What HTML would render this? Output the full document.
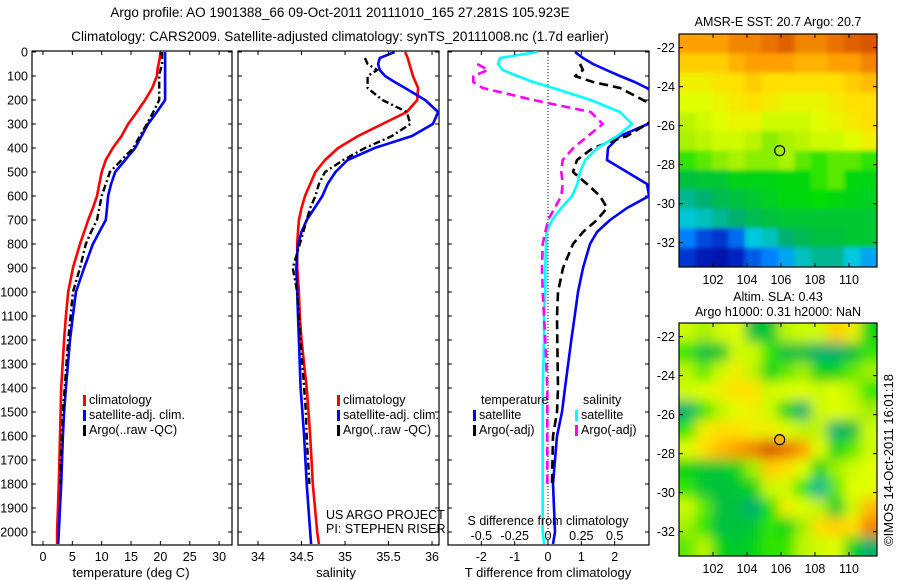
<!DOCTYPE html>
<html><head><meta charset="utf-8">
<style>
body{margin:0;background:#fff;}
svg{display:block;font-family:"Liberation Sans",sans-serif;}
</style></head>
<body>
<svg id="fig" width="900" height="580" viewBox="0 0 900 580" xmlns="http://www.w3.org/2000/svg">
<text x="340" y="17" font-size="13.5" text-anchor="middle">Argo profile: AO 1901388_66 09-Oct-2011 20111010_165 27.281S 105.923E</text>
<text x="340" y="41" font-size="13.5" text-anchor="middle">Climatology: CARS2009. Satellite-adjusted climatology: synTS_20111008.nc (1.7d earlier)</text>
<defs><filter id="blur2" x="-10%" y="-10%" width="120%" height="120%"><feGaussianBlur stdDeviation="6"/></filter>
<filter id="blur1" x="-10%" y="-10%" width="120%" height="120%"><feGaussianBlur stdDeviation="2"/></filter>
<clipPath id="cp1"><rect x="32" y="51" width="200" height="494"/></clipPath>
<clipPath id="cp2"><rect x="238" y="51" width="201" height="494"/></clipPath>
<clipPath id="cp3"><rect x="448" y="51" width="201" height="494"/></clipPath>
<clipPath id="cm1"><rect x="679" y="34" width="198" height="233"/></clipPath>
<clipPath id="cm2"><rect x="679" y="323" width="198" height="233"/></clipPath>
</defs>
<g id="root"></g>
<text transform="translate(893,460) rotate(-90)" font-size="13" text-anchor="middle">©IMOS 14-Oct-2011 16:01:18</text>
</svg>
<script>
// ---- depth levels (m) ----
const depths = [0,25,50,75,100,125,150,200,250,300,350,400,450,500,550,600,650,700,750,800,900,1000,1100,1200,1400,1500,1600,1800,2000,2050];
// ---- temperature panel (deg C) ----
const tClim = [20.0,19.9,19.7,19.5,19.4,19.0,18.6,17.4,16.0,14.5,13.4,11.9,10.7,10.0,9.6,9.2,8.5,7.7,7.0,6.3,5.1,4.3,3.9,3.6,3.1,3.0,2.9,2.7,2.4,2.4];
const tSat  = [20.8,20.8,20.8,20.8,20.8,20.8,20.8,20.8,19.4,17.9,16.8,15.7,14.0,12.3,11.6,11.1,10.9,10.7,9.6,8.5,7.0,5.6,5.1,4.6,3.9,3.6,3.4,3.1,2.7,2.6];
const tArgo = [20.3,20.3,20.3,20.0,19.8,19.8,19.8,19.8,18.8,17.7,16.5,15.4,13.4,11.4,10.7,10.0,9.6,9.2,8.2,7.3,6.3,5.1,4.7,4.3,3.7,3.4,3.2,2.9,null,null];
// ---- salinity panel ----
const sClim = [35.69,35.72,35.74,35.76,35.78,35.81,35.84,35.83,35.71,35.43,35.15,34.92,34.77,34.66,34.60,34.54,34.50,34.47,34.46,34.45,34.45,34.47,34.48,34.50,34.56,34.58,34.60,34.63,34.68,34.70];
const sSat  = [35.57,35.40,35.38,35.40,35.46,35.57,35.69,35.92,36.07,36.01,35.77,35.34,35.03,34.89,34.80,34.74,34.65,34.56,34.50,34.46,34.44,34.45,34.46,34.47,34.49,34.51,34.53,34.56,34.60,34.61];
const sArgo = [null,35.23,35.26,35.37,35.26,35.26,35.26,35.43,35.71,35.75,35.54,35.23,34.98,34.77,34.70,34.66,34.60,34.56,34.52,34.48,34.40,34.45,34.47,34.49,34.53,34.55,34.56,34.59,null,null];
// ---- difference panel: T diff (deg C), S diff ----
const dTSat  = [0.81,1.05,1.35,1.75,2.16,2.6,2.97,3.5,3.5,3.0,2.16,1.8,1.77,2.37,2.97,3.03,2.37,1.86,1.47,1.26,1.05,0.9,0.8,0.7,0.51,0.42,0.27,0.15,0.21,0.15];
const dTArgo = [null,null,0.96,1.05,0.81,1.35,2.16,2.85,3.5,2.97,2.37,1.35,0.87,0.75,1.17,1.56,1.77,1.47,1.05,0.75,0.45,0.3,0.27,0.28,0.3,0.27,0.15,0.12,null,null];
const dSSat  = [-0.08,-0.36,-0.375,-0.34,-0.23,-0.11,0.04,0.32,0.54,0.63,0.52,0.37,0.28,0.24,0.22,0.18,0.10,0.03,-0.01,-0.015,-0.02,-0.02,-0.03,-0.03,-0.04,-0.04,-0.04,-0.04,-0.04,-0.03];
const dSArgo = [null,null,-0.53,-0.45,-0.56,-0.56,-0.49,-0.11,0.32,0.41,0.30,0.19,0.11,0.10,0.11,0.10,0.05,0.0,-0.02,-0.04,-0.045,-0.04,-0.03,-0.02,-0.005,-0.005,-0.005,-0.005,null,null];
// ---- tick labels ----
const depthTicks = [0,100,200,300,400,500,600,700,800,900,1000,1100,1200,1300,1400,1500,1600,1700,1800,1900,2000];
const tTicks = [0,5,10,15,20,25,30];
const sTicks = [34,34.5,35,35.5,36];
const dTTicks = [-2,-1,0,1,2];
const dSTicks = [-0.5,-0.25,0,0.25,0.5];
const dSLabels = ['-0.5','-0.25','0','0.25','0.5'];
const latTicks = [-22,-24,-26,-28,-30,-32];
const lonTicks = [102,104,106,108,110];
// ---- map grids (normalized colour value 0..1), rows north->south ----
const sstGrid = [
[0.85,0.85,0.85,0.88,0.88,0.9,0.92,0.88,0.88,0.9,0.92,0.93],
[0.8,0.8,0.8,0.83,0.85,0.85,0.85,0.83,0.83,0.85,0.85,0.88],
[0.75,0.75,0.77,0.78,0.8,0.78,0.78,0.78,0.78,0.78,0.8,0.82],
[0.72,0.72,0.74,0.76,0.78,0.76,0.74,0.74,0.74,0.76,0.78,0.78],
[0.68,0.7,0.72,0.74,0.74,0.7,0.7,0.7,0.72,0.74,0.76,0.78],
[0.66,0.68,0.7,0.7,0.68,0.64,0.66,0.68,0.7,0.7,0.72,0.75],
[0.6,0.62,0.64,0.66,0.64,0.64,0.66,0.62,0.6,0.62,0.62,0.6],
[0.5,0.52,0.52,0.55,0.55,0.55,0.56,0.56,0.6,0.62,0.56,0.55],
[0.42,0.45,0.48,0.5,0.52,0.54,0.56,0.56,0.58,0.56,0.55,0.54],
[0.36,0.38,0.42,0.45,0.48,0.5,0.52,0.52,0.52,0.52,0.52,0.52],
[0.25,0.18,0.15,0.22,0.35,0.38,0.45,0.48,0.5,0.5,0.52,0.52],
[0.15,0.1,0.08,0.12,0.2,0.25,0.3,0.38,0.42,0.42,0.35,0.3]];
const slaGrid = [
[0.7,0.65,0.7,0.72,0.5,0.52,0.68,0.7,0.7,0.8,0.75,0.55],
[0.6,0.5,0.52,0.7,0.7,0.6,0.5,0.5,0.45,0.45,0.5,0.6],
[0.68,0.62,0.7,0.75,0.68,0.55,0.62,0.65,0.55,0.55,0.62,0.65],
[0.7,0.72,0.75,0.78,0.78,0.7,0.72,0.72,0.7,0.72,0.68,0.6],
[0.45,0.6,0.68,0.72,0.75,0.7,0.55,0.45,0.7,0.72,0.7,0.65],
[0.6,0.75,0.78,0.78,0.75,0.75,0.72,0.68,0.68,0.45,0.5,0.7],
[0.72,0.78,0.82,0.85,0.88,0.93,0.9,0.85,0.72,0.55,0.62,0.7],
[0.55,0.52,0.52,0.55,0.65,0.8,0.78,0.72,0.55,0.65,0.7,0.72],
[0.6,0.52,0.5,0.52,0.55,0.7,0.7,0.6,0.42,0.62,0.72,0.72],
[0.7,0.62,0.5,0.5,0.45,0.58,0.75,0.72,0.68,0.52,0.7,0.82],
[0.65,0.6,0.5,0.5,0.52,0.6,0.55,0.65,0.78,0.8,0.78,0.88],
[0.62,0.68,0.55,0.52,0.55,0.6,0.6,0.68,0.7,0.72,0.55,0.45]];
const argoLon = 105.923, argoLat = -27.281;

const NS="http://www.w3.org/2000/svg";
const root=document.getElementById('root');
function el(tag,attrs,parent,txt){const e=document.createElementNS(NS,tag);for(const k in attrs)e.setAttribute(k,attrs[k]);if(txt!==undefined)e.textContent=txt;(parent||root).appendChild(e);return e;}

const Y0=51,Y1=545;
const yScale=d=>52+d*0.24;

function panel(name,x0,x1,xmin,xmax,clip){
  const g=el('g',{});
  
  
  const xs=v=>x0+(v-xmin)/(xmax-xmin)*(x1-x0);
  const box=el('rect',{x:x0,y:Y0,width:x1-x0,height:Y1-Y0,fill:'none',stroke:'#000','stroke-width':1.2},g);
  
  
  depthTicks.forEach(d=>{const y=yScale(d);
    el('line',{x1:x0,x2:x0+4,y1:y,y2:y,stroke:'#000'},g);
    el('line',{x1:x1,x2:x1-4,y1:y,y2:y,stroke:'#000'},g);});
  return {g,xs,clip};
}
function series(p,vals,color,dash,name,w){
  let d='',pen=false;
  vals.forEach((v,i)=>{if(v===null){pen=false;return;}d+=(pen?'L':'M')+p.xs(v).toFixed(1)+','+yScale(depths[i]).toFixed(1);pen=true;});
  const a={d:d,fill:'none',stroke:color,'stroke-width':w||2.6,'clip-path':'url(#'+p.clip+')','stroke-linejoin':'round'};
  if(dash)a['stroke-dasharray']=dash;
  const e=el('path',a,p.g);
  
  
}
function xTicks(p,ticks,ylab){ticks.forEach(t=>{const x=p.xs(t);
  el('line',{x1:x,x2:x,y1:Y1,y2:Y1-4,stroke:'#000'},p.g);
  el('line',{x1:x,x2:x,y1:Y0,y2:Y0+4,stroke:'#000'},p.g);
  const tl=el('text',{x:x,y:ylab,'font-size':12.5,'text-anchor':'middle'},p.g,String(t));
  
  });}
function legend(p,x,y,items){items.forEach((it,i)=>{
  el('rect',{x:x,y:y+i*15-9,width:3,height:11,fill:it[0]},p.g);
  const t=el('text',{x:x+6,y:y+i*15,'font-size':12.5},p.g,it[1]);
  
  });}

// Panel 1 temperature
const p1=panel('temperature-panel',32,232,-1.87,32.2,'cp1');
depthTicks.forEach(d=>{const t=el('text',{x:28,y:yScale(d)+4.5,'font-size':12.5,'text-anchor':'end'},p1.g,String(d));
  
  });
series(p1,tClim,'#ff0000',null,'temp-climatology-line');
series(p1,tSat,'#0000ff',null,'temp-satellite-line');
series(p1,tArgo,'#000','7,3,2,3','temp-argo-line',2.4);
xTicks(p1,tTicks,561);
const xt1=el('text',{x:131,y:577,'font-size':13,'text-anchor':'middle'},p1.g,'temperature (deg C)');


legend(p1,83,404,[['#f00','climatology'],['#00f','satellite-adj. clim.'],['#000','Argo(..raw -QC)']]);

// Panel 2 salinity
const p2=panel('salinity-panel',238,439,33.77,36.08,'cp2');
series(p2,sClim,'#ff0000',null,'sal-climatology-line');
series(p2,sSat,'#0000ff',null,'sal-satellite-line');
series(p2,sArgo,'#000','7,3,2,3','sal-argo-line',2.4);
xTicks(p2,sTicks,561);
const xt2=el('text',{x:336,y:577,'font-size':13,'text-anchor':'middle'},p2.g,'salinity');


legend(p2,337,404,[['#f00','climatology'],['#00f','satellite-adj. clim.'],['#000','Argo(..raw -QC)']]);
const pr1=el('text',{x:326,y:519,'font-size':12.5},p2.g,'US ARGO PROJECT');


const pr2=el('text',{x:326,y:533,'font-size':12.5},p2.g,'PI: STEPHEN RISER');



// Panel 3 differences
const p3=panel('difference-panel',448,649,-3.0,3.03,'cp3');
const sx=v=>p3.xs(v*4);
el('line',{x1:p3.xs(0),x2:p3.xs(0),y1:Y0,y2:Y1,stroke:'#000','stroke-width':1,'stroke-dasharray':'1,2'},p3.g);
series(p3,dTSat,'#0000ff',null,'tdiff-satellite-line');
series(p3,dTArgo,'#000','9,5','tdiff-argo-line');
series(p3,dSSat.map(v=>v===null?null:v*4),'#00ffff',null,'sdiff-satellite-line');
series(p3,dSArgo.map(v=>v===null?null:v*4),'#ff00ff','9,5','sdiff-argo-line');
dTTicks.forEach(t=>{const x=p3.xs(t);
  el('line',{x1:x,x2:x,y1:Y1,y2:Y1-4,stroke:'#000'},p3.g);el('line',{x1:x,x2:x,y1:Y0,y2:Y0+4,stroke:'#000'},p3.g);
  const tl=el('text',{x:x,y:561,'font-size':12.5,'text-anchor':'middle'},p3.g,String(t));
  
  });
dSTicks.forEach((t,i)=>{const tl=el('text',{x:sx(t),y:540,'font-size':12.5,'text-anchor':'middle'},p3.g,dSLabels[i]);
  
  });
const sdt=el('text',{x:548,y:525,'font-size':12.5,'text-anchor':'middle'},p3.g,'S difference from climatology');


const tdt=el('text',{x:548,y:577,'font-size':13,'text-anchor':'middle'},p3.g,'T difference from climatology');


el('text',{x:481,y:404,'font-size':12.5},p3.g,'temperature');
el('text',{x:583,y:404,'font-size':12.5},p3.g,'salinity');
legend(p3,473,419,[['#00f','satellite'],['#000','Argo(-adj)']]);
legend(p3,575,419,[['#0ff','satellite'],['#f0f','Argo(-adj)']]);

// colormap
const stops=[[0,[0,0,128]],[0.12,[0,32,192]],[0.25,[0,128,255]],[0.35,[0,200,224]],[0.45,[0,176,112]],[0.5,[0,192,64]],[0.58,[0,224,0]],[0.65,[160,240,0]],[0.72,[224,255,0]],[0.78,[255,224,0]],[0.85,[255,160,0]],[0.92,[224,96,0]],[1,[160,16,0]]];
function cmap(v){for(let i=1;i<stops.length;i++){if(v<=stops[i][0]){const a=stops[i-1],b=stops[i];const f=(v-a[0])/(b[0]-a[0]);
  const c=a[1].map((x,k)=>Math.round(x+(b[1][k]-x)*f));return 'rgb('+c+')';}}return 'rgb(160,16,0)';}

function map(name,grid,top,clipId,blurId){
  const x0=679,x1=877,y1=top+233;
  const lonMin=100.0,lonMax=111.65,latTop=-21.3,latBot=-33.25;
  const lx=l=>x0+(l-lonMin)/(lonMax-lonMin)*(x1-x0);
  const ly=l=>top+(latTop-l)/(latTop-latBot)*233;
  const g=el('g',{});
  
  
  const cg=el('g',{'clip-path':'url(#'+clipId+')'},g);
  const ig=el('g',{filter:'url(#'+blurId+')'},cg);
  const nr=grid.length,nc=grid[0].length;
  const dLon=(lonMax-lonMin)/nc,dLat=(latTop-latBot)/nr;
  const pad=12;
  grid.forEach((row,r)=>row.forEach((v,c)=>{
    const xa=lx(lonMin+c*dLon),ya=ly(latTop-r*dLat);
    const cell=el('rect',{x:xa-(c==0?pad:0),y:ya-(r==0?pad:0),width:lx(lonMin+(c+1)*dLon)-xa+0.6+(c==0||c==nc-1?pad:0),height:ly(latTop-(r+1)*dLat)-ya+0.6+(r==0||r==nr-1?pad:0),fill:cmap(v)},ig);
    
    
  }));
  el('rect',{x:x0,y:top,width:x1-x0,height:233,fill:'none',stroke:'#000','stroke-width':1.2},g);
  latTicks.forEach(t=>{const y=ly(t);el('line',{x1:x0,x2:x0+4,y1:y,y2:y,stroke:'#000'},g);el('line',{x1:x1,x2:x1-4,y1:y,y2:y,stroke:'#000'},g);
    const tl=el('text',{x:675,y:y+4.5,'font-size':12.5,'text-anchor':'end'},g,String(t));
    
    });
  lonTicks.forEach(t=>{const x=lx(t);el('line',{x1:x,x2:x,y1:top,y2:top+4,stroke:'#000'},g);el('line',{x1:x,x2:x,y1:y1,y2:y1-4,stroke:'#000'},g);
    const tl=el('text',{x:x,y:y1+17,'font-size':12.5,'text-anchor':'middle'},g,String(t));
    
    });
  const m=el('circle',{cx:lx(argoLon),cy:ly(argoLat),r:5,fill:'none',stroke:'#000','stroke-width':1.2},g);
  
  
  return m;
}
map('sst-map',sstGrid,34,'cm1','blur1');
const m2=map('sla-map',slaGrid,323,'cm2','blur2');
m2.setAttribute('fill','#ffb000');
const t1=el('text',{x:778,y:26,'font-size':12.5,'text-anchor':'middle'},root,'AMSR-E SST: 20.7 Argo: 20.7');


const t2=el('text',{x:778,y:301,'font-size':12.5,'text-anchor':'middle'},root,'Altim. SLA: 0.43');


const t3=el('text',{x:778,y:316,'font-size':12.5,'text-anchor':'middle'},root,'Argo h1000: 0.31 h2000: NaN');


</script>
</body></html>
